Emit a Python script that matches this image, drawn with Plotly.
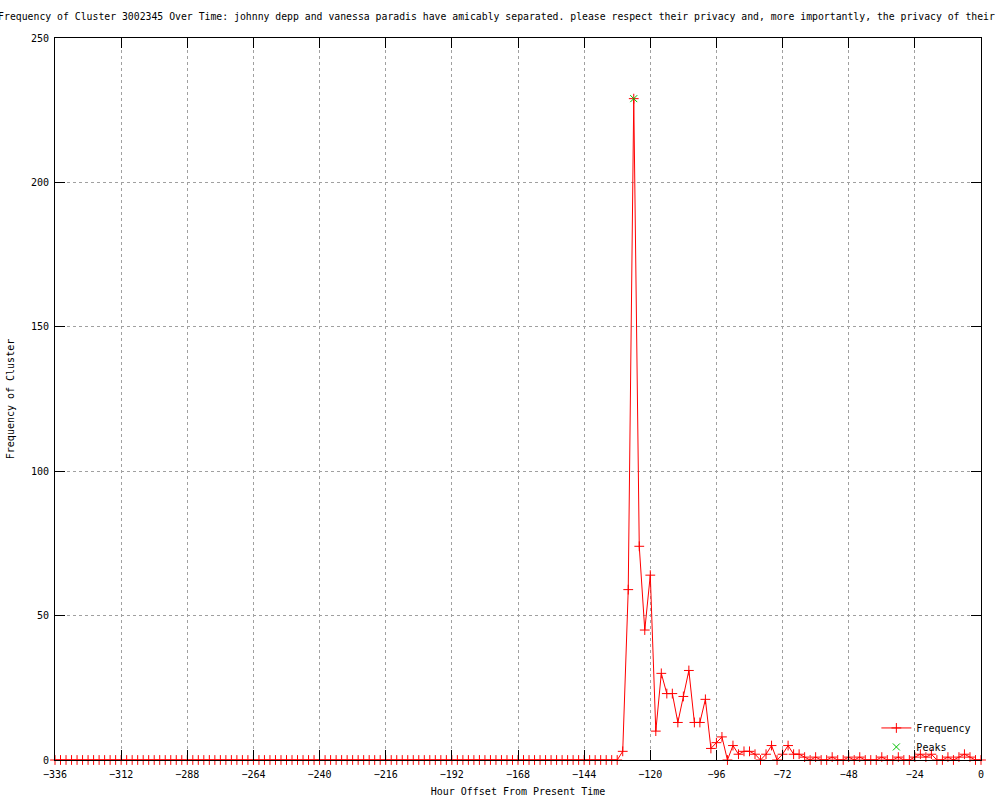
"""Gnuplot-style cluster frequency chart, redone in Plotly."""

import plotly.graph_objects as go

RED = "#FF0000"
GREEN = "#00C000"
GRID = "#A0A0A0"
FONT = "DejaVu Sans Mono, Liberation Mono, monospace"

TITLE = (
    "Frequency of Cluster 3002345 Over Time: johnny depp and vanessa paradis have "
    "amicably separated. please respect their privacy and, more importantly, "
    "the privacy of their children."
)

# one sample every two hours, -336 .. 0
HOURS = list(range(-336, 1, 2))

# -336 .. -132 : nothing happening
FREQ_BEFORE = [
    0, 0, 0, 0, 0, 0, 0, 0, 0, 0,
    0, 0, 0, 0, 0, 0, 0, 0, 0, 0,
    0, 0, 0, 0, 0, 0, 0, 0, 0, 0,
    0, 0, 0, 0, 0, 0, 0, 0, 0, 0,
    0, 0, 0, 0, 0, 0, 0, 0, 0, 0,
    0, 0, 0, 0, 0, 0, 0, 0, 0, 0,
    0, 0, 0, 0, 0, 0, 0, 0, 0, 0,
    0, 0, 0, 0, 0, 0, 0, 0, 0, 0,
    0, 0, 0, 0, 0, 0, 0, 0, 0, 0,
    0, 0, 0, 0, 0, 0, 0, 0, 0, 0,
    0, 0, 0,
]

# -130 .. 0
FREQ_AFTER = [
    3, 59, 229, 74, 45, 64, 10, 30, 23, 23,
    13, 22, 31, 13, 13, 21, 4, 6, 8, 0,
    5, 2, 3, 3, 2, 0, 2, 5, 0, 2,
    5, 2, 2, 1, 0, 1, 0, 0, 1, 0,
    0, 1, 0, 1, 0, 0, 0, 1, 0, 0,
    1, 0, 0, 1, 2, 1, 2, 0, 0, 1,
    0, 1, 2, 1, 0, 0,
]

FREQ = FREQ_BEFORE + FREQ_AFTER

PEAK_HOURS = [-126]
PEAK_FREQ = [229]

X_TICKS = [-336, -312, -288, -264, -240, -216, -192, -168, -144, -120, -96, -72, -48, -24, 0]
Y_TICKS = [0, 50, 100, 150, 200, 250]

fig = go.Figure()
fig.add_trace(
    go.Scatter(
        x=HOURS,
        y=FREQ,
        mode="lines+markers",
        name="Frequency",
        line=dict(color=RED, width=1),
        marker=dict(symbol="cross-thin", size=7, color=RED, line=dict(color=RED, width=1)),
        cliponaxis=False,
    )
)
fig.add_trace(
    go.Scatter(
        x=PEAK_HOURS,
        y=PEAK_FREQ,
        mode="markers",
        name="Peaks",
        marker=dict(symbol="x-thin", size=7, color=GREEN, line=dict(color=GREEN, width=1)),
    )
)

fig.update_layout(
    width=1000,
    height=800,
    margin=dict(l=55, r=19, t=38, b=40),
    paper_bgcolor="#FFFFFF",
    plot_bgcolor="#FFFFFF",
    font=dict(family=FONT, size=10, color="#000000"),
    title=dict(
        text=TITLE,
        x=0.526,
        xanchor="center",
        y=1 - 17 / 800,
        yanchor="middle",
        font=dict(family=FONT, size=9.8, color="#000000"),
    ),
    legend=dict(
        x=0.995,
        y=-0.002,
        xanchor="right",
        yanchor="bottom",
        bgcolor="rgba(0,0,0,0)",
        font=dict(family=FONT, size=10),
        itemwidth=30,
        tracegroupgap=0,
    ),
)
fig.update_xaxes(
    range=[-336, 0],
    tickvals=X_TICKS,
    automargin=False,
    showgrid=True,
    gridcolor=GRID,
    griddash="dot",
    gridwidth=1,
    zeroline=False,
    showline=True,
    linecolor="#000000",
    linewidth=1,
    mirror="ticks",
    ticks="inside",
    ticklen=10,
    tickcolor="#000000",
    ticklabelstandoff=5,
    title=dict(text="Hour Offset From Present Time", standoff=8, font=dict(size=10)),
)
fig.update_yaxes(
    range=[0, 250],
    tickvals=Y_TICKS,
    automargin=False,
    showgrid=True,
    gridcolor=GRID,
    griddash="dot",
    gridwidth=1,
    zeroline=False,
    showline=True,
    linecolor="#000000",
    linewidth=1,
    mirror="ticks",
    ticks="inside",
    ticklen=10,
    tickcolor="#000000",
    ticklabelstandoff=3,
    title=dict(text="Frequency of Cluster", standoff=14, font=dict(size=10)),
)

# the page's default 8px body margin would shift the whole chart
fig.write_html(
    "out.html",
    config={"displayModeBar": False},
    post_script="document.body.style.margin = '0';",
)
